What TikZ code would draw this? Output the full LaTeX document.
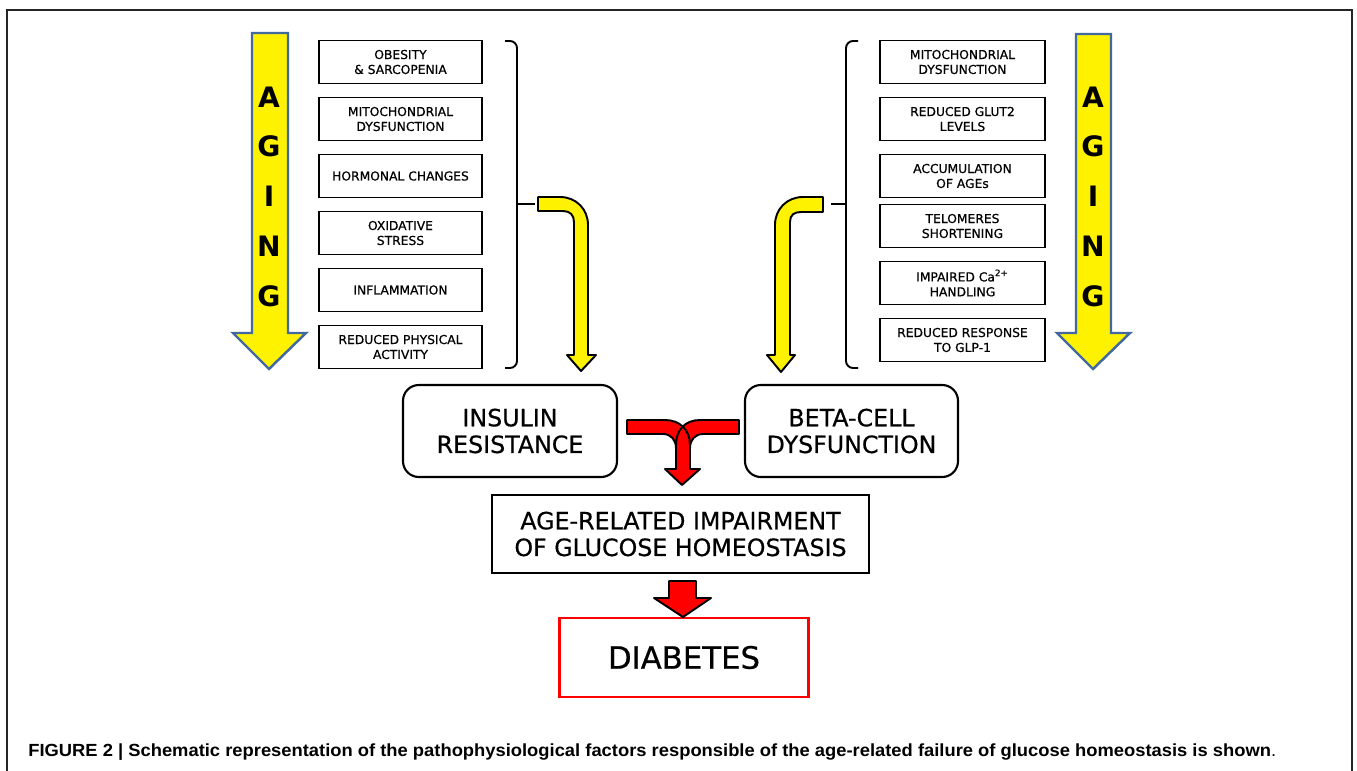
\documentclass[tikz,border=0pt]{standalone}
\usepackage{fontspec}
\setmainfont{DejaVu Sans}
\newfontfamily\comicfont{DejaVu Sans}[FakeBold=0.6]
\newfontfamily\capfont{Liberation Sans}
\usepackage{tikz}
\usetikzlibrary{positioning,calc}
\definecolor{agingblue}{RGB}{65,105,160}
\newlength\pix
\setlength\pix{0.02cm}
\tikzset{
    factor/.style={draw, line width=1.1pt, minimum width=163\pix, minimum height=43\pix,
        align=center, inner sep=0pt, font=\comicfont\fontsize{7}{8.5}\selectfont},
    stage/.style={draw, line width=1.2pt, align=center, inner sep=0pt,
        font=\comicfont\fontsize{13.5}{15.2}\selectfont},
    agelet/.style={inner sep=0pt, font=\bfseries\fontsize{16}{16}\selectfont},
    agearrow/.style={fill=yellow, draw=agingblue, line width=1.4pt},
    bentarrow/.style={fill=yellow, draw=black, line width=1.1pt, line join=round},
    mergearrow/.style={fill=red, draw=black, line width=1.1pt, line join=round},
    brace/.style={line width=1.1pt, rounded corners=4pt}
}
\newcommand\caion{Ca\textsuperscript{2+}}

\begin{document}
\begin{tikzpicture}[x=0.02cm, y=-0.02cm]
    \useasboundingbox (0,0) rectangle (1357,771);
    % frame
    \draw[line width=0.8pt, black!85] (7,771) -- (7,10) -- (1352,10) -- (1352,771);

    % aging arrows
    \draw[agearrow] (252,33) -- (288,33) -- (288,333) -- (306,333) -- (269,369)
        -- (233,333) -- (252,333) -- cycle;
    \draw[agearrow] (1076,34) -- (1111,34) -- (1111,333) -- (1130,333) -- (1093,369)
        -- (1057,333) -- (1076,333) -- cycle;
    \foreach \n/\ch/\y in {1/A/97, 2/G/146, 3/I/196, 4/N/246, 5/G/296} {
        \node[agelet] (agl\n) at (269,\y) {\ch};
        \node[agelet] (agr\n) at (1093,\y) {\ch};
    }

    % factor boxes
    \foreach \n/\y/\txt in {
        1/62/OBESITY\\\& SARCOPENIA,
        2/119/MITOCHONDRIAL\\DYSFUNCTION,
        3/176/HORMONAL CHANGES,
        4/233/OXIDATIVE\\STRESS,
        5/290/INFLAMMATION,
        6/347/REDUCED PHYSICAL\\ACTIVITY
    } {
        \node[factor] (ir\n) at (400.5,\y) {\txt};
    }
    \foreach \n/\y/\txt in {
        1/62/MITOCHONDRIAL\\DYSFUNCTION,
        2/119/REDUCED GLUT2\\LEVELS,
        3/176/ACCUMULATION\\OF AGEs,
        4/226/TELOMERES\\SHORTENING,
        5/283/IMPAIRED \caion\\HANDLING,
        6/340/REDUCED RESPONSE\\TO GLP-1
    } {
        \node[factor, minimum width=165\pix] (bc\n) at (962.5,\y) {\txt};
    }

    % braces
    \draw[brace] (505,41) -- (517,41) -- (517,368) -- (505,368);
    \draw[line width=1.1pt] (517,204) -- (535,204);
    \draw[brace] (858,41) -- (846,41) -- (846,368) -- (858,368);
    \draw[line width=1.1pt] (846,204) -- (831,204);

    % bent arrows
    \draw[bentarrow] (538,197) -- (560,197) .. controls (576,197) and (588,209) .. (588,225)
        -- (588,355) -- (596,355) -- (581,371) -- (567,355) -- (574,355) -- (574,222)
        .. controls (574,215) and (570,211) .. (563,211) -- (538,211) -- cycle;
    \draw[bentarrow] (823,197) -- (803,197) .. controls (787,197) and (775,209) .. (775,225)
        -- (775,355) -- (767,355) -- (781,372) -- (795,355) -- (790,355) -- (790,222)
        .. controls (790,215) and (794,212) .. (801,212) -- (823,212) -- cycle;

    % main stages
    \node[stage, rounded corners=9pt, minimum width=214\pix, minimum height=92\pix]
        (ins) at (510,431) {INSULIN\\RESISTANCE};
    \node[stage, rounded corners=9pt, minimum width=213\pix, minimum height=92\pix]
        (beta) at (851.5,431) {BETA-CELL\\DYSFUNCTION};
    \node[stage, minimum width=377\pix, minimum height=78\pix]
        (age) at (680.5,534) {AGE-RELATED IMPAIRMENT\\OF GLUCOSE HOMEOSTASIS};
    \node[stage, draw=red, line width=1.3pt, minimum width=249\pix, minimum height=79\pix,
        font=\comicfont\fontsize{17.5}{20}\selectfont] (diab) at (684,657.5) {DIABETES};

    % merging red arrow
    \fill[red] (627,420) -- (665,420) .. controls (680,420) and (690,430) .. (690,445)
        -- (690,469) -- (676,469) -- (676,448) .. controls (676,440) and (671,434) .. (663,434)
        -- (627,434) -- cycle;
    \fill[red] (739,420) -- (700,420) .. controls (685,420) and (676,430) .. (676,445)
        -- (676,469) -- (690,469) -- (690,448) .. controls (690,440) and (695,434) .. (703,434)
        -- (739,434) -- cycle;
    \draw[mergearrow] (627,420) -- (665,420) .. controls (680,420) and (690,430) .. (690,445)
        -- (690,469) -- (700,469) -- (682,485) -- (665,469) -- (676,469) -- (676,448)
        .. controls (676,440) and (671,434) .. (663,434) -- (627,434) -- cycle;
    \draw[mergearrow, fill=none] (676,460) -- (676,445) .. controls (676,430) and (685,420) .. (700,420)
        -- (739,420) -- (739,434) -- (703,434) .. controls (695,434) and (690,440) .. (690,448)
        -- (690,460);
    \draw[mergearrow] (669,581) -- (696,581) -- (696,598) -- (711,598) -- (683,617)
        -- (654,598) -- (669,598) -- cycle;

    % caption
    \node[anchor=base west, inner sep=0pt] (cap) at (28,756)
        {\capfont\fontsize{10}{12}\selectfont\scalebox{1.045}[1]{\bfseries FIGURE 2 | Schematic representation of the pathophysiological factors responsible of the age-related failure of glucose homeostasis is shown\mdseries.}};
\end{tikzpicture}
\end{document}
